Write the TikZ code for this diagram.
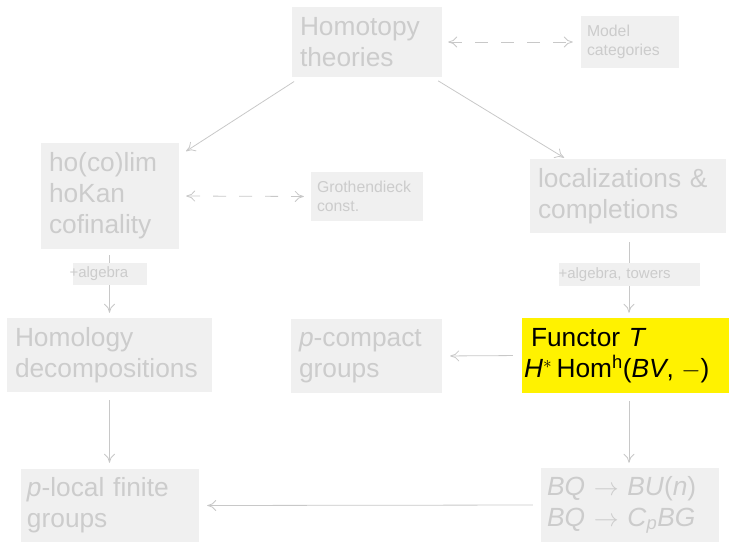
\documentclass[tikz,border=0pt]{standalone}
\usepackage{fontspec}
\setmainfont{Liberation Sans}
\usetikzlibrary{arrows.meta}
\definecolor{boxgray}{RGB}{240,240,240}
\definecolor{txtgray}{RGB}{204,204,204}
\definecolor{linegray}{RGB}{200,200,200}
\definecolor{hiyellow}{RGB}{255,242,0}
\tikzset{
  bigbox/.style={fill=boxgray, text=txtgray, inner sep=0pt, align=left,
    font=\fontsize{26.3}{31}\selectfont},
  smallbox/.style={fill=boxgray, text=txtgray, inner sep=0pt, align=left,
    font=\fontsize{15.8}{18.5}\selectfont},
  lbl/.style={fill=boxgray, text=txtgray, inner sep=0pt, align=left,
    font=\fontsize{15}{18}\selectfont},
  hibox/.style={fill=hiyellow, text=black, inner sep=0pt, align=left,
    font=\fontsize{26.3}{31}\selectfont},
  conn/.style={draw=linegray, line width=0.8pt,
    -{Computer Modern Rightarrow[length=9pt,width=11pt]}},
  dconn/.style={draw=linegray, line width=0.8pt, dash pattern=on 13pt off 13pt,
    {Computer Modern Rightarrow[length=9pt,width=11pt]}-{Computer Modern Rightarrow[length=9pt,width=11pt]}},
}
\begin{document}
\begin{tikzpicture}[x=1pt,y=-1pt]
\useasboundingbox (0,0) rectangle (730,543);
% nodes
\node[bigbox, minimum width=150pt, minimum height=70pt, text width=134pt] (homot) at (367,42) {Homotopy\\theories};
\node[smallbox, minimum width=98pt, minimum height=52pt, text width=86pt] (model) at (630,42) {Model\\categories};
\node[bigbox, minimum width=138pt, minimum height=106pt, text width=122pt] (hocolim) at (110,196) {ho(co)lim\\hoKan\\cofinality};
\node[smallbox, minimum width=112pt, minimum height=49pt, text width=100pt] (groth) at (367,196.5) {Grothendieck\\const.};
\node[bigbox, minimum width=196pt, minimum height=74pt, text width=180pt] (localiz) at (628,196) {localizations \&\\completions};
\node[bigbox, minimum width=205pt, minimum height=74pt, text width=189pt] (homol) at (109.5,355) {Homology\\decompositions};
\node[bigbox, minimum width=151pt, minimum height=74pt, text width=135pt] (pcomp) at (366.5,356) {\textit{p}-compact\\groups};
\node[hibox, minimum width=207pt, minimum height=75pt, text width=203pt] (functor) at (625.5,355.5) {\hspace*{7pt}Functor \textit{T}\\\textit{H}$^{*}$\,Hom\textsuperscript{h}(\textit{BV},\;$-$)};
\node[bigbox, minimum width=178pt, minimum height=73pt, text width=166pt] (plocal) at (110,505.5) {\textit{p}-local finite\\groups};
\node[bigbox, minimum width=178pt, minimum height=74pt, text width=166pt] (bq) at (630,505) {\textit{BQ} $\rightarrow$ \textit{BU}(\textit{n})\\\textit{BQ} $\rightarrow$ \textit{C}\textsubscript{\textit{p}}\textit{BG}};
\coordinate (colL) at (109.5,0);
\coordinate (colR) at (629,0);
% connectors
\draw[conn, shorten <=8pt, shorten >=1pt] ([xshift=9pt]homot.south west) -- ([xshift=6pt,yshift=-9pt]hocolim.north east);
\draw[conn, shorten <=7pt, shorten >=2pt] ([xshift=-10pt]homot.south east) -- ([xshift=36pt]localiz.north west);
\draw[dconn, shorten <=6pt, shorten >=8pt] (homot.east) -- (model.west);
\draw[dconn, shorten <=7pt, shorten >=7pt] (hocolim.east) -- (groth.west);
\draw[conn, shorten <=6pt, shorten >=5pt] (hocolim.south -| colL) -- node[lbl, pos=0.36, minimum width=74pt, minimum height=22pt, text width=74pt] {\hspace*{-3pt}+algebra} (homol.north -| colL);
\draw[conn, shorten <=9pt, shorten >=5pt] (localiz.south -| colR) -- node[lbl, pos=0.49, minimum width=141pt, minimum height=23pt, text width=141pt] {+algebra, towers} (functor.north -| colR);
\draw[conn, shorten <=9pt, shorten >=8pt] (functor.west) -- (pcomp.east);
\draw[conn, shorten <=8pt, shorten >=5pt] (functor.south -| colR) -- (bq.north -| colR);
\draw[conn, shorten <=8pt, shorten >=6pt] (homol.south -| colL) -- (plocal.north -| colL);
\draw[conn, shorten <=8pt, shorten >=8pt] (bq.west) -- (plocal.east);
\end{tikzpicture}
\end{document}
